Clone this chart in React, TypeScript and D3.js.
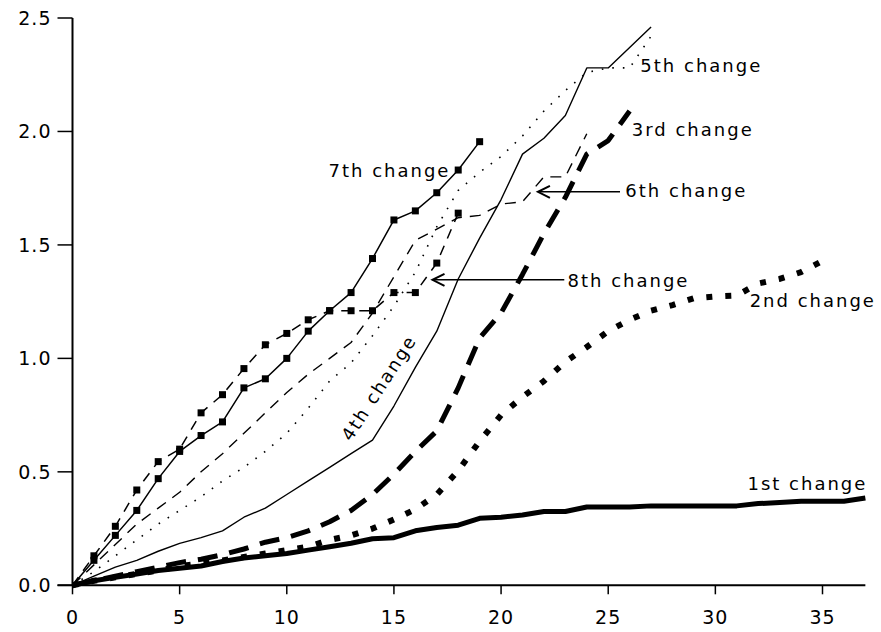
import { useMemo } from "react";
import * as d3 from "d3";

// values, one per unit on the x axis, starting at 0
const first = [0, 0.02, 0.035, 0.05, 0.065, 0.075, 0.085, 0.105, 0.12, 0.13, 0.14, 0.155, 0.17, 0.185, 0.205, 0.21, 0.24, 0.255, 0.265, 0.295, 0.3, 0.31, 0.325, 0.325, 0.345, 0.345, 0.345, 0.35, 0.35, 0.35, 0.35, 0.35, 0.36, 0.365, 0.37, 0.37, 0.37, 0.385];
const second = [0, 0.02, 0.035, 0.05, 0.065, 0.085, 0.095, 0.11, 0.125, 0.14, 0.155, 0.17, 0.2, 0.22, 0.25, 0.29, 0.335, 0.4, 0.505, 0.635, 0.75, 0.83, 0.9, 0.985, 1.05, 1.12, 1.17, 1.21, 1.235, 1.265, 1.273, 1.277, 1.33, 1.35, 1.38, 1.43];
const third = [0, 0.02, 0.04, 0.06, 0.08, 0.1, 0.115, 0.135, 0.16, 0.19, 0.21, 0.24, 0.28, 0.33, 0.4, 0.49, 0.59, 0.68, 0.87, 1.09, 1.2, 1.37, 1.55, 1.71, 1.9, 1.96, 2.09];
const fourth = [0, 0.04, 0.08, 0.11, 0.15, 0.185, 0.21, 0.24, 0.3, 0.34, 0.4, 0.46, 0.52, 0.58, 0.64, 0.79, 0.96, 1.12, 1.35, 1.53, 1.7, 1.9, 1.97, 2.07, 2.28, 2.28, 2.37, 2.46];
const fifth = [0, 0.06, 0.13, 0.2, 0.27, 0.33, 0.39, 0.46, 0.52, 0.59, 0.67, 0.78, 0.9, 0.98, 1.1, 1.23, 1.38, 1.58, 1.74, 1.82, 1.89, 1.98, 2.09, 2.18, 2.26, 2.28, 2.28, 2.42];
const sixth = [0, 0.09, 0.18, 0.27, 0.34, 0.41, 0.5, 0.58, 0.67, 0.76, 0.85, 0.93, 1.0, 1.07, 1.2, 1.36, 1.52, 1.57, 1.62, 1.63, 1.68, 1.69, 1.8, 1.8, 1.99];
const seventh = [0, 0.11, 0.22, 0.33, 0.47, 0.59, 0.66, 0.72, 0.87, 0.91, 1.0, 1.12, 1.21, 1.29, 1.44, 1.61, 1.65, 1.73, 1.83, 1.955];
const eighth = [0, 0.13, 0.26, 0.42, 0.545, 0.6, 0.76, 0.84, 0.955, 1.06, 1.11, 1.17, 1.21, 1.21, 1.21, 1.29, 1.29, 1.42, 1.64];

const xTicks = [0, 5, 10, 15, 20, 25, 30, 35];
const yTicks = [0, 0.5, 1.0, 1.5, 2.0, 2.5];

const width = 881;
const height = 632;
const font = "'DejaVu Sans', sans-serif";

export default function App() {
  const x = d3.scaleLinear().domain([0, 35]).range([72.5, 822.5]);
  const y = d3.scaleLinear().domain([0, 2.5]).range([585.3, 18]);

  const line = d3.line<number>()
    .x((_, i) => x(i))
    .y(d => y(d));

  const series = useMemo(() => [
    { name: "1st", values: first, width: 5, dash: null, markers: false },
    { name: "2nd", values: second, width: 6, dash: "6,13", markers: false },
    { name: "3rd", values: third, width: 5, dash: "20,12", markers: false },
    { name: "4th", values: fourth, width: 1.4, dash: null, markers: false },
    { name: "5th", values: fifth, width: 1.6, dash: "1.6,9", markers: false },
    { name: "6th", values: sixth, width: 1.4, dash: "11,8", markers: false },
    { name: "7th", values: seventh, width: 1.5, dash: null, markers: true },
    { name: "8th", values: eighth, width: 1.5, dash: "10,8", markers: true },
  ], []);

  // annotation placement in data units
  const labels = [
    { text: "1st change", at: [31.5, 0.42] },
    { text: "2nd change", at: [31.6, 1.227] },
    { text: "3rd change", at: [26.1, 1.98] },
    { text: "5th change", at: [26.5, 2.26] },
    { text: "6th change", at: [25.8, 1.71] },
    { text: "7th change", at: [11.95, 1.8] },
    { text: "8th change", at: [23.1, 1.315] },
  ];
  const arrows = [
    { from: [25.55, 1.734], to: [21.72, 1.734] },
    { from: [22.95, 1.346], to: [16.8, 1.346] },
  ];

  return (
    <svg width={width} height={height} style={{ position: "absolute", left: 0, top: 0, background: "#fff" }}
      fontFamily={font}>
      {/* axes */}
      <line x1={x(0)} x2={x(0)} y1={y(0)} y2={y(2.5)} stroke="#000" strokeWidth={2} />
      <line x1={x(0) - 15} x2={x(37)} y1={y(0)} y2={y(0)} stroke="#000" strokeWidth={2} />
      {yTicks.map(t => (
        <g key={t}>
          <line x1={x(0) - 15} x2={x(0)} y1={y(t)} y2={y(t)} stroke="#000" strokeWidth={1.5} />
          <text x={x(0) - 21} y={y(t)} dy="0.36em" textAnchor="end" fontSize={19} letterSpacing={1}>
            {t.toFixed(1)}
          </text>
        </g>
      ))}
      {xTicks.map(t => (
        <g key={t}>
          <line x1={x(t)} x2={x(t)} y1={y(0)} y2={y(0) + 9} stroke="#000" strokeWidth={1.5} />
          <text x={x(t)} y={y(0) + 39} textAnchor="middle" fontSize={19} letterSpacing={1}>{t}</text>
        </g>
      ))}

      {/* lines */}
      {series.map(s => (
        <g key={s.name}>
          <path d={line(s.values) ?? ""} fill="none" stroke="#000" strokeWidth={s.width}
            strokeDasharray={s.dash ?? undefined} strokeLinejoin="round" />
          {s.markers && s.values.map((v, i) => i === 0 ? null : (
            <rect key={i} x={x(i) - 3.5} y={y(v) - 3.5} width={7} height={7} fill="#000" />
          ))}
        </g>
      ))}

      {/* annotations */}
      {labels.map(l => (
        <text key={l.text} x={x(l.at[0])} y={y(l.at[1])} fontSize={18} letterSpacing={2}>{l.text}</text>
      ))}
      <text transform={`translate(${x(13.0)},${y(0.63)}) rotate(-57)`} fontSize={18} letterSpacing={2}>4th change</text>
      {arrows.map((a, i) => {
        const x1 = x(a.from[0]), x2 = x(a.to[0]), yy = y(a.from[1]);
        return (
          <g key={i} stroke="#000" strokeWidth={1.5} fill="none">
            <line x1={x1} x2={x2} y1={yy} y2={yy} />
            <path d={`M${x2 + 12},${yy - 6}L${x2},${yy}L${x2 + 12},${yy + 6}`} strokeWidth={2} />
          </g>
        );
      })}
    </svg>
  );
}
